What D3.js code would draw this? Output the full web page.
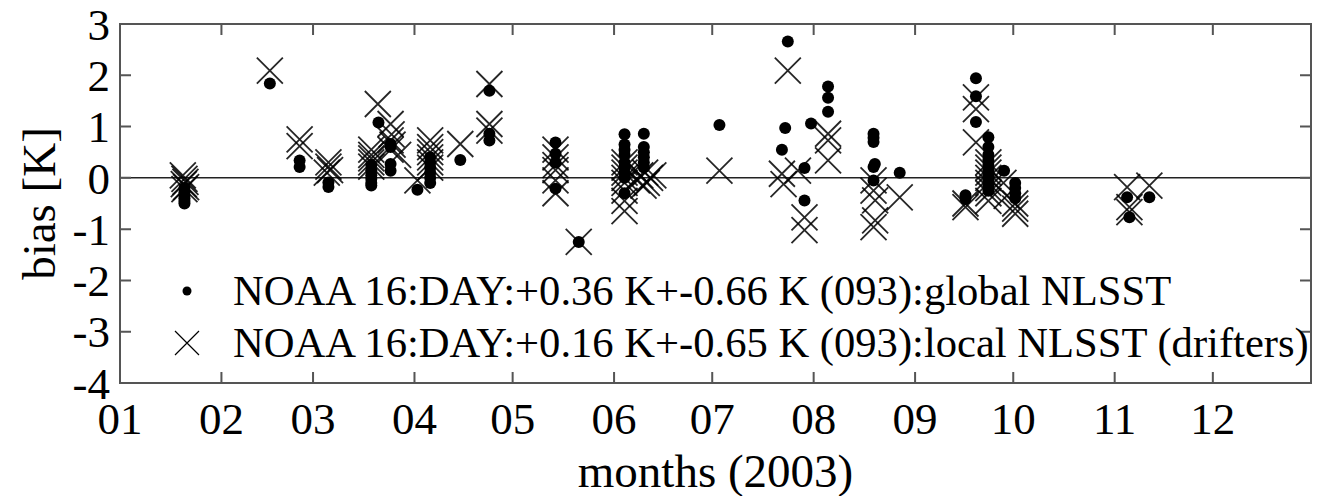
<!DOCTYPE html>
<html>
<head>
<meta charset="utf-8">
<script src="https://cdn.jsdelivr.net/npm/d3@7"></script>
<style>
  html, body { margin: 0; padding: 0; background: #fff; }
</style>
</head>
<body>
<div id="chart"></div>
<script>
// day of year (0 = 1 Jan 2003) and bias [K]
const globalDay = [19.7, 19.7, 19.7, 19.7, 19.7, 19.7, 45.8, 54.9, 54.9, 63.7, 63.7,
  76.8, 76.8, 76.8, 76.8, 76.8, 76.8, 79, 82.7, 82.7, 82.7, 82.7, 90.9,
  94.8, 94.8, 94.8, 94.8, 94.8, 94.8, 104, 112.9, 112.9, 112.9,
  133.1, 133.1, 133.1, 133.1, 140.2,
  154.2, 154.2, 154.2, 154.2, 154.2, 154.2, 154.2, 154.2, 154.2,
  160.1, 160.1, 160.1, 160.1, 160.1, 160.1, 183.2, 204.1, 203.3, 202.3,
  209.2, 209.2, 211.2, 216.4, 216.4, 216.4,
  230.3, 230.3, 230.3, 230.7, 230.3, 230.3, 238.3, 261.6, 261.6, 261.6, 258.4, 258.4,
  265.4, 265.4, 265.4, 265.4, 265.4, 265.4, 265.4, 265.4, 265.4, 265.4, 270.2,
  273.6, 273.6, 273.6, 273.6, 307.8, 308.5, 314.6];
const globalBias = [-0.5, -0.45, -0.4, -0.35, -0.28, -0.2, 1.84, 0.34, 0.21, -0.09, -0.18,
  0.25, 0.15, 0.05, -0.02, -0.1, -0.15, 1.08, 0.66, 0.6, 0.27, 0.14, -0.23,
  0.4, 0.3, 0.2, 0.1, 0.0, -0.1, 0.35, 1.7, 0.86, 0.73,
  0.69, 0.47, 0.3, -0.21, -1.25,
  0.85, 0.65, 0.55, 0.45, 0.3, 0.2, 0.1, 0.0, -0.3,
  0.86, 0.6, 0.5, 0.4, 0.3, 0.2, 1.03, 2.66, 0.97, 0.55,
  0.19, -0.44, 1.06, 1.78, 1.56, 1.29,
  0.86, 0.78, 0.7, 0.27, 0.21, -0.05, 0.1, 1.94, 1.59, 1.09, -0.34, -0.41,
  0.79, 0.6, 0.45, 0.35, 0.25, 0.15, 0.05, -0.05, -0.15, -0.25, 0.14,
  -0.1, -0.2, -0.3, -0.4, -0.38, -0.77, -0.38];

const localDay = [19.2, 19.7, 20.0, 19.5, 20.2, 19.7, 45.8, 54.9, 54.9,
  63.7, 63.7, 64.2, 63.2, 78.8, 76.8, 76.8, 76.8, 76.8, 76.8,
  82.7, 83, 82.7, 83.3, 82.7, 85, 90.9, 94.8, 94.8, 94.8, 94.8, 94.8, 94.8,
  104, 112.9, 112.9, 112.9, 133.1, 133.1, 133.1, 133.1, 133.1, 133.1, 140.2,
  154.2, 154.2, 154.2, 154.2, 154.2, 154.2, 154.2, 154.2,
  157.5, 159, 160.5, 162, 158, 161, 163, 160,
  183.2, 204.1, 202.3, 202.8, 207.2, 209.2, 209.2, 216.4, 216.4, 216.4,
  230.3, 230.3, 230.8, 230.8, 230.3, 238.3, 261.6, 261.6, 261.6, 258.4, 258.4,
  265.4, 265.4, 265.4, 265.4, 265.4, 265.4, 265.4, 265.4, 270, 271,
  273.6, 273.6, 273.6, 307.8, 314.6, 308.5, 308.5];
const localBias = [0.05, -0.02, -0.08, -0.12, -0.18, -0.22, 2.09, 0.75, 0.62,
  0.3, 0.22, 0.15, 0.1, 1.44, 0.55, 0.45, 0.38, 0.3, 0.22,
  1.05, 0.85, 0.73, 0.65, 0.55, 0.45, -0.05, 0.73, 0.6, 0.5, 0.4, 0.3, 0.2,
  0.66, 1.83, 1.05, 0.92, 0.55, 0.4, 0.25, 0.15, -0.05, -0.3, -1.25,
  0.3, 0.2, 0.1, 0.0, -0.1, -0.25, -0.45, -0.65,
  0.15, 0.05, 0.1, 0.0, -0.05, -0.1, 0.05, -0.15,
  0.14, 2.09, 0.08, -0.12, 0.14, -0.77, -1.02, 0.86, 0.73, 0.34,
  -0.05, -0.25, -0.44, -0.83, -0.96, -0.38, 1.57, 1.34, 0.69, -0.5, -0.57,
  0.3, 0.2, 0.1, 0.0, -0.1, -0.2, -0.3, -0.45, -0.1, -0.35,
  -0.5, -0.6, -0.7, -0.18, -0.15, -0.57, -0.67];

const monthStart = [0, 31, 59, 90, 120, 151, 181, 212, 243, 273, 304, 334];
const monthLabels = ["01", "02", "03", "04", "05", "06", "07", "08", "09", "10", "11", "12"];
const biasTicks = [-4, -3, -2, -1, 0, 1, 2, 3];
const legendLabels = [
  "NOAA 16:DAY:+0.36 K+-0.66 K (093):global NLSST",
  "NOAA 16:DAY:+0.16 K+-0.65 K (093):local NLSST (drifters)"
];

const width = 1317, height = 496;
const plotL = 120, plotR = 1311, plotT = 24, plotB = 383;
const serif = '"Liberation Serif", "Times New Roman", Tinos, serif';

const x = d3.scaleLinear().domain([0, 364]).range([plotL, plotR]);
const y = d3.scaleLinear().domain([-4, 3]).range([plotB, plotT]);

const svg = d3.select("#chart").append("svg")
  .attr("width", width)
  .attr("height", height);

const axisColor = "#555";

// zero line
svg.append("line")
  .attr("x1", plotL).attr("x2", plotR)
  .attr("y1", y(0)).attr("y2", y(0))
  .attr("stroke", "#222").attr("stroke-width", 1.5);

// markers: crosses first, dots on top
const cs = 13;
const crosses = svg.append("g")
  .attr("stroke", "#000")
  .attr("stroke-width", 1.8)
  .attr("stroke-opacity", 0.85)
  .attr("fill", "none");
crosses.selectAll("path")
  .data(d3.range(localDay.length))
  .join("path")
  .attr("d", i => {
    const cx = x(localDay[i]), cy = y(localBias[i]);
    return `M${cx - cs},${cy - cs}L${cx + cs},${cy + cs}M${cx - cs},${cy + cs}L${cx + cs},${cy - cs}`;
  });

svg.append("g")
  .selectAll("circle")
  .data(d3.range(globalDay.length))
  .join("circle")
  .attr("cx", i => x(globalDay[i]))
  .attr("cy", i => y(globalBias[i]))
  .attr("r", 6)
  .attr("fill", "#000");

// frame and inward ticks on all four sides
const tk = 11;
const axes = svg.append("g").attr("stroke", axisColor).attr("stroke-width", 2).attr("fill", "none");
axes.append("rect")
  .attr("x", plotL).attr("y", plotT)
  .attr("width", plotR - plotL).attr("height", plotB - plotT);
axes.selectAll(".xt")
  .data(monthStart.slice(1))
  .join("path")
  .attr("d", d => `M${x(d)},${plotT}v${tk}M${x(d)},${plotB}v${-tk}`);
axes.selectAll(".yt")
  .data(biasTicks)
  .join("path")
  .attr("d", d => `M${plotL},${y(d)}h${tk}M${plotR},${y(d)}h${-tk}`);

// tick labels
svg.append("g")
  .selectAll("text")
  .data(monthStart)
  .join("text")
  .attr("font-family", serif)
  .attr("font-size", 45)
  .attr("text-anchor", "middle")
  .attr("x", d => x(d))
  .attr("y", 434)
  .text((d, i) => monthLabels[i]);

svg.append("g")
  .selectAll("text")
  .data(biasTicks)
  .join("text")
  .attr("font-family", serif)
  .attr("font-size", 45)
  .attr("text-anchor", "end")
  .attr("x", 110)
  .attr("y", d => y(d))
  .attr("dy", "0.35em")
  .text(d => d);

// axis titles
svg.append("text")
  .attr("font-family", serif)
  .attr("font-size", 47)
  .attr("text-anchor", "middle")
  .attr("x", (plotL + plotR) / 2)
  .attr("y", 487)
  .text("months (2003)");

svg.append("text")
  .attr("font-family", serif)
  .attr("font-size", 47)
  .attr("text-anchor", "middle")
  .attr("transform", `translate(55,${(plotT + plotB) / 2}) rotate(-90)`)
  .text("bias [K]");

// legend
const legend = svg.append("g");
legend.append("circle")
  .attr("cx", 187).attr("cy", 291).attr("r", 4.5).attr("fill", "#000");
legend.append("path")
  .attr("d", "M175,331L199,355M175,355L199,331")
  .attr("stroke", "#000").attr("stroke-width", 1.2).attr("fill", "none");
legend.selectAll("text")
  .data(legendLabels)
  .join("text")
  .attr("font-family", serif)
  .attr("font-size", 42.6)
  .attr("x", 233)
  .attr("y", (d, i) => 305 + i * 52)
  .text(d => d);
</script>
</body>
</html>
